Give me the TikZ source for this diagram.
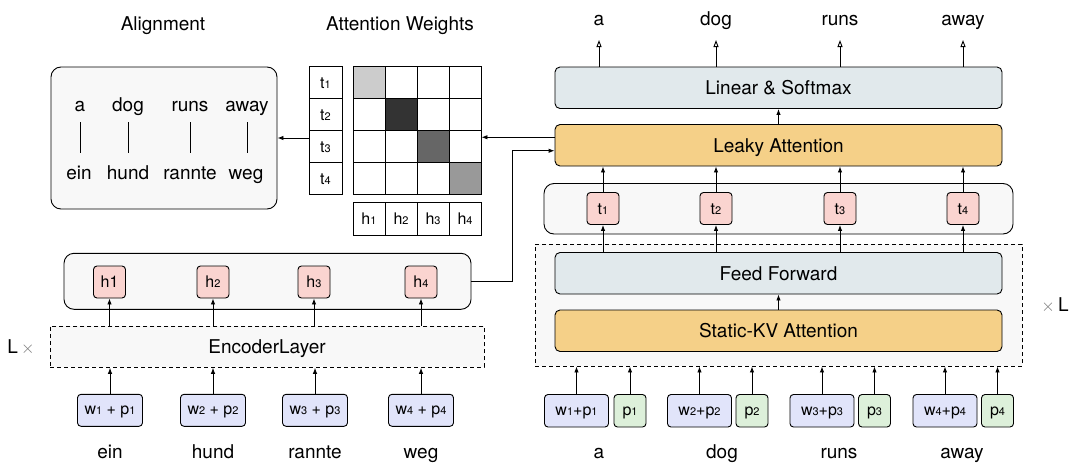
\documentclass[tikz,border=0pt]{standalone}
\usepackage{fontspec}
\setmainfont{TeX Gyre Heros}
\usetikzlibrary{arrows.meta,calc}
\newcommand{\myfs}[1]{\fontsize{#1}{#1}\selectfont}
\newcommand{\bigf}{\myfs{19}}
\newcommand{\smallf}{\myfs{16}}
\newcommand{\sbd}[1]{{\myfs{11}#1}}
\definecolor{panel}{HTML}{F8F8F8}
\definecolor{pinkc}{HTML}{FAD4D0}
\definecolor{lavc}{HTML}{E1E4FA}
\definecolor{greenc}{HTML}{DDF0DA}
\definecolor{orangec}{HTML}{F5D088}
\definecolor{bluec}{HTML}{E1E9EC}
\definecolor{ga}{HTML}{CCCCCC}
\definecolor{gb}{HTML}{333333}
\definecolor{gc}{HTML}{666666}
\definecolor{gd}{HTML}{999999}
\definecolor{timesc}{HTML}{777777}
\begin{document}
\begin{tikzpicture}[x=1pt,y=-1pt,
  line width=0.9pt,
  txt/.style={font=\bigf, inner sep=0pt, anchor=base},
  wide/.style={draw, rounded corners=5pt, minimum width=447pt, minimum height=41.5pt, font=\bigf, inner sep=0pt, text height=13.6pt, text depth=0pt},
  tok/.style={draw, rounded corners=3.5pt, minimum width=32pt, minimum height=32pt, font=\smallf, inner sep=0pt, fill=pinkc, text height=11.4pt, text depth=0pt},
  inp/.style={draw, rounded corners=3.5pt, minimum width=64pt, minimum height=32.5pt, font=\smallf, inner sep=0pt, fill=lavc, text height=9pt, text depth=0pt},
  posbox/.style={draw, rounded corners=3.5pt, minimum width=32pt, minimum height=32.5pt, font=\smallf, inner sep=0pt, fill=greenc, text height=9pt, text depth=0pt},
  cell/.style={draw, minimum width=32pt, minimum height=32pt, inner sep=0pt, font=\smallf, text height=12pt, text depth=0pt},
  panelbox/.style={draw, rounded corners=10pt, fill=panel, inner sep=0pt},
  dbox/.style={draw, dashed, dash pattern=on 4pt off 3pt, fill=panel, inner sep=0pt},
  arr/.style={-{Latex[length=6pt,width=4.5pt]}},
  oarr/.style={-{Triangle[open,length=7pt,width=5pt]}}
]
\useasboundingbox (0,0) rectangle (1078,471);

% ---------- titles ----------
\node[txt] (tal) at (163,30) {Alignment};
\node[txt] (tat) at (400,30) {Attention Weights};

% ---------- alignment box ----------
\node[panelbox, minimum width=226pt, minimum height=142pt] (al) at (164,138) {};
\foreach \n/\x/\w in {a/80/a, b/128/dog, c/190/runs, d/247/away}
  \node[txt] (al\n) at (\x,111) {\w};
\foreach \n/\x/\w in {a/79/ein, b/128/hund, c/190/rannte, d/246/weg}
  \node[txt] (ag\n) at (\x,179) {\w};
\foreach \n/\x in {a/80, b/128, c/190, d/247}
  \draw (\x,122) -- (\x,153);

% ---------- attention matrix ----------
\foreach \i in {1,...,4}
  \node[cell, minimum width=33pt] (tc\i) at (325.5,{82+32*(\i-1)}) {t\sbd{\i}};
\foreach \r/\c/\f in {1/1/ga,1/2/white,1/3/white,1/4/white,
                      2/1/white,2/2/gb,2/3/white,2/4/white,
                      3/1/white,3/2/white,3/3/gc,3/4/white,
                      4/1/white,4/2/white,4/3/white,4/4/gd}
  \node[cell, fill=\f] (m\r\c) at ({369+32*(\c-1)},{82+32*(\r-1)}) {};
\foreach \i in {1,...,4}
  \node[cell, minimum height=33pt, text height=11pt] (hr\i) at ({369+32*(\i-1)},218.5) {h\sbd{\i}};

\draw[arr] (tc3.west |- al.east) -- (al.east);

% ---------- decoder side ----------
\node[dbox, minimum width=487pt, minimum height=122pt] (dec) at (778.5,305) {};
\node[wide, fill=bluec] (ff) at (778.5,273.25) {Feed Forward};
\node[wide, fill=orangec] (skv) at (778.5,330.75) {Static-KV Attention};
\draw[arr] (skv.north) -- (ff.south);
\node[txt] (xl) at (1055,311.5) {\textcolor{timesc}{$\times$}\,L};

\node[panelbox, minimum width=469pt, minimum height=50.5pt] (tb) at (778.5,208.75) {};
\foreach \i/\x in {1/603, 2/716, 3/840, 4/963}
  \node[tok] (t\i) at (\x,208.5) {t\sbd{\i}};

\node[wide, fill=orangec] (leaky) at (778.5,145.25) {Leaky Attention};
\node[wide, fill=bluec] (lin) at (778.5,87.75) {Linear \& Softmax};
\draw[arr] (leaky.north) -- (lin.south);

\foreach \i in {1,...,4} {
  \draw[arr] (ff.north -| t\i) -- (t\i.south);
  \draw[arr] (t\i.north) -- (leaky.south -| t\i);
}

\foreach \i/\x/\w in {1/599/a, 2/716/dog, 3/840/runs, 4/963/away} {
  \node[txt] (o\i) at (\x,25) {\w};
  \coordinate (ot\i) at (\x,40);
  \draw[oarr] (lin.north -| ot\i) -- (ot\i);
}

% inputs right
\foreach \i/\xa/\xb/\w in {1/576.5/630/a, 2/699.5/752/dog, 3/822/874.5/runs, 4/945/997.5/away} {
  \node[inp] (wr\i) at (\xa,410.75) {w\sbd{\i}+p\sbd{\i}};
  \node[posbox] (pr\i) at (\xb,410.75) {p\sbd{\i}};
  \draw[arr] (wr\i.north) -- (dec.south -| wr\i);
  \draw[arr] (pr\i.north) -- (dec.south -| pr\i);
}
\foreach \i/\x/\w in {1/599/a, 2/722/dog, 3/839/runs, 4/962/away}
  \node[txt] (br\i) at (\x,458) {\w};

% ---------- encoder side ----------
\node[panelbox, minimum width=407pt, minimum height=56pt] (enc) at (267.5,281.3) {};
\node[tok] (h1) at (109.5,282) {h1};
\node[tok] (h2) at (213,282) {h\sbd{2}};
\node[tok] (h3) at (314,282) {h\sbd{3}};
\node[tok] (h4) at (421,282) {h\sbd{4}};
\node[dbox, minimum width=434pt, minimum height=41.3pt, font=\bigf, text height=13.6pt, text depth=0pt] (el) at (267,346.7) {EncoderLayer};
\node[txt] (lx) at (21,353) {L\,\textcolor{timesc}{$\times$}};
\foreach \i/\x/\w in {1/110/ein, 2/213/hund, 3/315/rannte, 4/421/weg} {
  \node[inp, minimum width=65pt, minimum height=32pt] (wl\i) at (\x,410.3) {w\sbd{\i} + p\sbd{\i}};
  \node[txt] (bl\i) at (\x,458.3) {\w};
  \draw[arr] (wl\i.north) -- (el.south -| wl\i);
  \draw[arr] (el.north -| h\i) -- (h\i.south);
}

% ---------- cross connections ----------
\coordinate (kink) at (512,0);
\draw[arr] (enc.east) -- (enc.east -| kink) |- ([yshift=-5.5pt]leaky.west);
\draw[arr] ([yshift=8pt]leaky.west) -- ([yshift=8pt]leaky.west -| m34.east);
\end{tikzpicture}
\end{document}
